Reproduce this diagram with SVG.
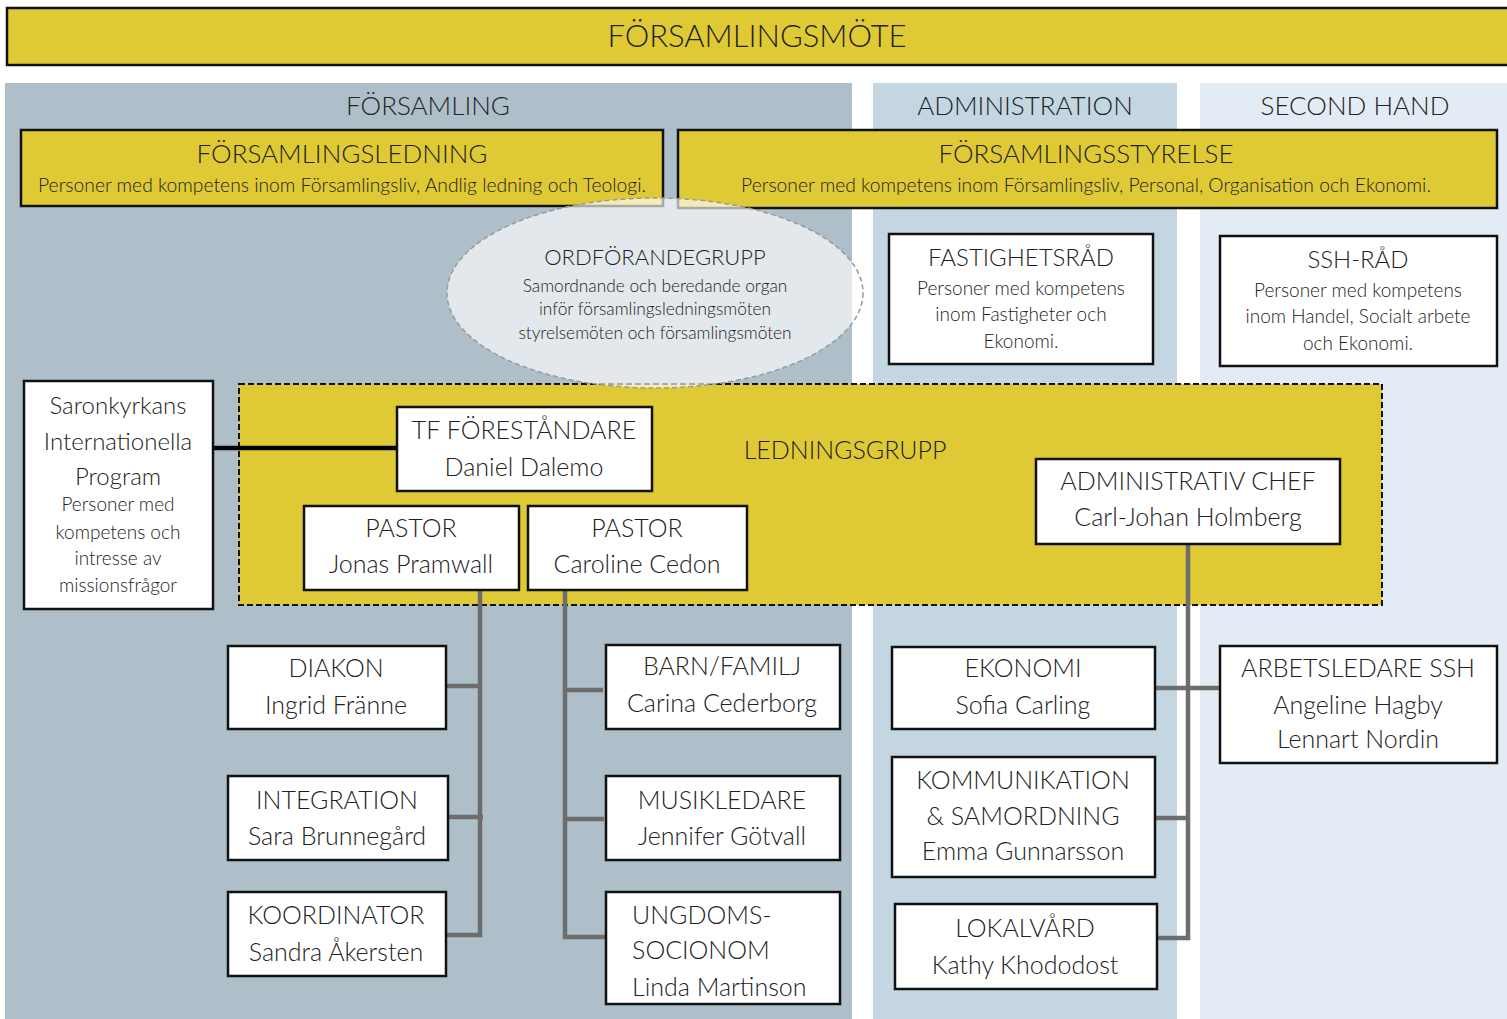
<svg xmlns="http://www.w3.org/2000/svg" width="1507" height="1019" viewBox="0 0 1507 1019">
<style>
text{font-family:"Lato","Liberation Sans",sans-serif;font-weight:300;fill:#222;text-anchor:middle}
text.l{text-anchor:start}
.y{fill:#DFCA35;stroke:#111;stroke-width:2.5}
.w{fill:#fff;stroke:#111;stroke-width:2.5}
.t{font-size:25px}
.s{font-size:19px}
.ys{font-size:19.3px}
.h{font-size:26px}
.c{stroke:#6D6D6D;stroke-width:4.5;fill:none}
</style>
<rect width="1507" height="1019" fill="#fff"/>
<g id="columns">
<rect x="5" y="83" width="847" height="936" fill="#AEBFCA"/>
<rect x="873" y="83" width="304" height="936" fill="#C3D6E2"/>
<rect x="1200" y="83" width="307" height="936" fill="#E3ECF4"/>
<text class="h" x="428" y="115">FÖRSAMLING</text>
<text class="h" x="1025" y="115">ADMINISTRATION</text>
<text class="h" x="1355" y="115">SECOND HAND</text>
</g>
<g id="forsamlingsmote">
<rect class="y" x="7" y="8" width="1502" height="57"/>
<text x="757" y="47" font-size="31">FÖRSAMLINGSMÖTE</text>
</g>
<g id="forsamlingsledning">
<rect class="y" x="21" y="130" width="642" height="76"/>
<text class="h" x="342" y="163">FÖRSAMLINGSLEDNING</text>
<text class="ys" x="342" y="192">Personer med kompetens inom Församlingsliv, Andlig ledning och Teologi.</text>
</g>
<g id="forsamlingsstyrelse">
<rect class="y" x="678" y="130" width="819" height="78"/>
<text class="h" x="1086" y="163">FÖRSAMLINGSSTYRELSE</text>
<text class="ys" x="1086" y="192">Personer med kompetens inom Församlingsliv, Personal, Organisation och Ekonomi.</text>
</g>
<g id="ledningsgrupp">
<rect x="239" y="384" width="1143" height="221" fill="#DFCA35" stroke="#111" stroke-width="2" stroke-dasharray="6 3"/>
<text x="845" y="459" font-size="25">LEDNINGSGRUPP</text>
</g>
<g id="ordforandegrupp">
<ellipse cx="655" cy="293" rx="208" ry="95" fill="#fff" fill-opacity="0.64" stroke="#9a9a9a" stroke-width="1.5" stroke-dasharray="5 3"/>
<text x="655" y="265" font-size="22" fill="#444">ORDFÖRANDEGRUPP</text>
<text x="655" y="292" font-size="17.3" fill="#444">Samordnande och beredande organ</text>
<text x="655" y="315" font-size="17.3" fill="#444">inför församlingsledningsmöten</text>
<text x="655" y="339" font-size="17.3" fill="#444">styrelsemöten och församlingsmöten</text>
</g>
<g id="fastighetsrad">
<rect class="w" x="889" y="234" width="264" height="130"/>
<text x="1021" y="266" font-size="24">FASTIGHETSRÅD</text>
<text class="s" x="1021" y="295">Personer med kompetens</text>
<text class="s" x="1021" y="321">inom Fastigheter och</text>
<text class="s" x="1021" y="348">Ekonomi.</text>
</g>
<g id="sshrad">
<rect class="w" x="1220" y="236" width="277" height="130"/>
<text x="1358" y="268" font-size="24">SSH-RÅD</text>
<text class="s" x="1358" y="297">Personer med kompetens</text>
<text class="s" x="1358" y="323">inom Handel, Socialt arbete</text>
<text class="s" x="1358" y="350">och Ekonomi.</text>
</g>
<g id="connectors">
<line x1="213" y1="448" x2="397" y2="448" stroke="#000" stroke-width="4.5"/>
<path class="c" d="M480 590V935H446M446 686H480M448 817H483"/>
<path class="c" d="M565 590V937H605M565 690H603M565 819H604"/>
<path class="c" d="M1188 544V938H1157M1155 688H1220M1155 818H1188"/>
</g>
<g id="saronkyrkans">
<rect class="w" x="24" y="381" width="189" height="228"/>
<text x="118" y="414" font-size="24">Saronkyrkans</text>
<text x="118" y="450" font-size="24">Internationella</text>
<text x="118" y="485" font-size="24">Program</text>
<text x="118" y="511" font-size="19">Personer med</text>
<text x="118" y="539" font-size="19">kompetens och</text>
<text x="118" y="565" font-size="19">intresse av</text>
<text x="118" y="592" font-size="19">missionsfrågor</text>
</g>
<g id="tf">
<rect class="w" x="397" y="407" width="255" height="84"/>
<text class="t" x="524" y="439">TF FÖRESTÅNDARE</text>
<text class="t" x="524" y="476">Daniel Dalemo</text>
</g>
<g id="pastor1">
<rect class="w" x="304" y="506" width="215" height="84"/>
<text class="t" x="411" y="537">PASTOR</text>
<text class="t" x="411" y="573">Jonas Pramwall</text>
</g>
<g id="pastor2">
<rect class="w" x="528" y="506" width="219" height="84"/>
<text class="t" x="637" y="537">PASTOR</text>
<text class="t" x="637" y="573">Caroline Cedon</text>
</g>
<g id="adminchef">
<rect class="w" x="1036" y="459" width="304" height="85"/>
<text class="t" x="1188" y="490">ADMINISTRATIV CHEF</text>
<text class="t" x="1188" y="526">Carl-Johan Holmberg</text>
</g>
<g id="diakon">
<rect class="w" x="228" y="646" width="218" height="83"/>
<text class="t" x="336" y="677">DIAKON</text>
<text class="t" x="336" y="714">Ingrid Fränne</text>
</g>
<g id="integration">
<rect class="w" x="228" y="776" width="220" height="84"/>
<text class="t" x="337" y="809">INTEGRATION</text>
<text class="t" x="337" y="845">Sara Brunnegård</text>
</g>
<g id="koordinator">
<rect class="w" x="228" y="892" width="218" height="84"/>
<text class="t" x="336" y="924">KOORDINATOR</text>
<text class="t" x="336" y="961">Sandra Åkersten</text>
</g>
<g id="barn">
<rect class="w" x="606" y="645" width="234" height="84"/>
<text class="t" x="722" y="675">BARN/FAMILJ</text>
<text class="t" x="722" y="712">Carina Cederborg</text>
</g>
<g id="musik">
<rect class="w" x="606" y="776" width="234" height="84"/>
<text class="t" x="722" y="809">MUSIKLEDARE</text>
<text class="t" x="722" y="845">Jennifer Götvall</text>
</g>
<g id="ungdom">
<rect class="w" x="606" y="892" width="234" height="112"/>
<text class="t l" x="632" y="924">UNGDOMS-</text>
<text class="t l" x="632" y="959">SOCIONOM</text>
<text class="t l" x="632" y="996">Linda Martinson</text>
</g>
<g id="ekonomi">
<rect class="w" x="892" y="647" width="263" height="82"/>
<text class="t" x="1023" y="677">EKONOMI</text>
<text class="t" x="1023" y="714">Sofia Carling</text>
</g>
<g id="kommunikation">
<rect class="w" x="892" y="757" width="263" height="120"/>
<text class="t" x="1023" y="789">KOMMUNIKATION</text>
<text class="t" x="1023" y="825">&amp; SAMORDNING</text>
<text class="t" x="1023" y="860">Emma Gunnarsson</text>
</g>
<g id="lokalvard">
<rect class="w" x="895" y="904" width="262" height="85"/>
<text class="t" x="1025" y="937">LOKALVÅRD</text>
<text class="t" x="1025" y="974">Kathy Khododost</text>
</g>
<g id="arbetsledare">
<rect class="w" x="1220" y="646" width="277" height="117"/>
<text class="t" x="1358" y="677">ARBETSLEDARE SSH</text>
<text class="t" x="1358" y="714">Angeline Hagby</text>
<text class="t" x="1358" y="748">Lennart Nordin</text>
</g>
</svg>
